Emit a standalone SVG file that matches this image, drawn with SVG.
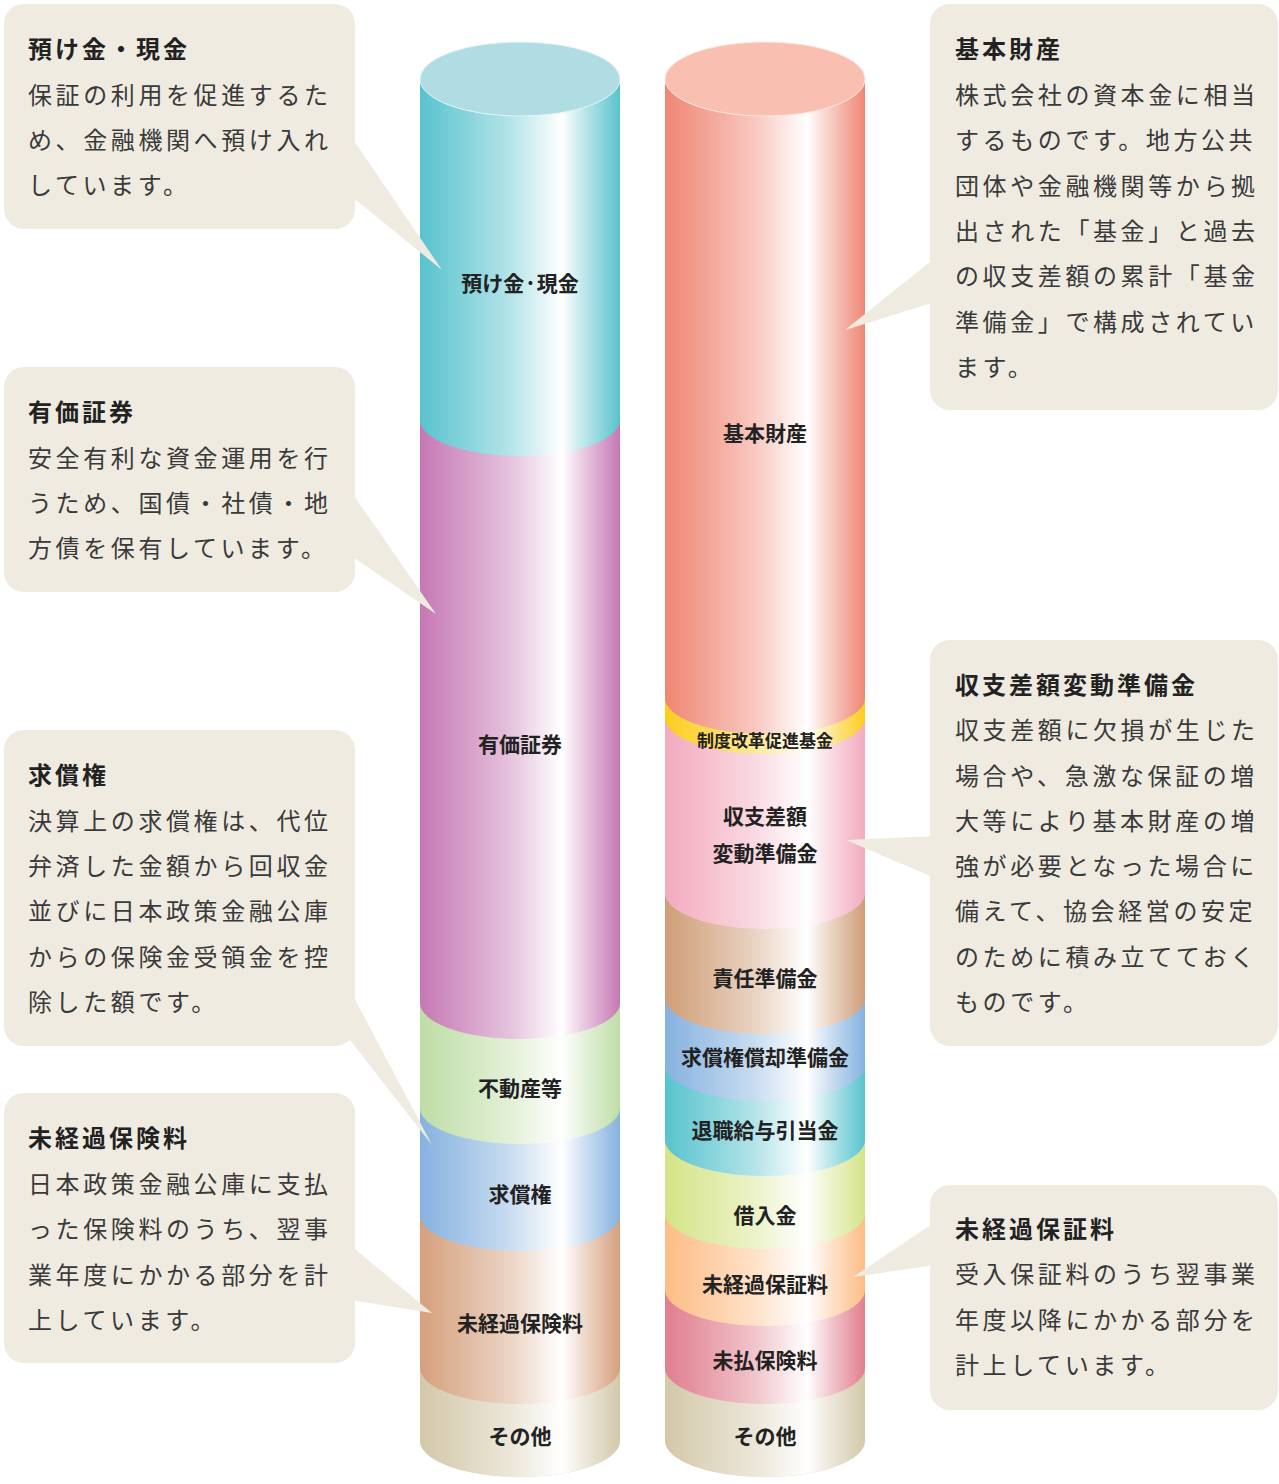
<svg xmlns="http://www.w3.org/2000/svg" width="1279" height="1484" viewBox="0 0 1279 1484">
<defs>
<style>
.box{fill:#efebe1}
.ttl{font-family:"Noto Sans CJK JP","Noto Sans",sans-serif;font-weight:700;font-size:24px;letter-spacing:3px;fill:#222}
.bd{font-family:"Noto Sans CJK JP","Noto Sans",sans-serif;font-weight:400;font-size:24px;letter-spacing:3.6px;fill:#3a3a3a}
.lbl{font-family:"Noto Sans CJK JP","Noto Sans",sans-serif;font-weight:700;font-size:21px;fill:#222;text-anchor:middle}
</style>
<linearGradient id="shine" x1="0" y1="0" x2="1" y2="0">
<stop offset="0" stop-color="#fff" stop-opacity="0"/>
<stop offset="0.15" stop-color="#fff" stop-opacity="0.18"/>
<stop offset="0.45" stop-color="#fff" stop-opacity="0.55"/>
<stop offset="0.71" stop-color="#fff" stop-opacity="1"/>
<stop offset="0.82" stop-color="#fff" stop-opacity="0.6"/>
<stop offset="1" stop-color="#fff" stop-opacity="0"/>
</linearGradient>
</defs>
<rect width="1279" height="1484" fill="#fff"/>

<!-- Left cylinder (assets) -->
<g id="cylinder-left">
<path id="seg-sonota-l" d="M420,1368 H620 V1441 A100,36 0 0 1 420,1441 Z" fill="#d3c8a9"/>
<path id="seg-mikeika-hokenryo" d="M420,1215 H620 V1368 A100,36 0 0 1 420,1368 Z" fill="#d5a07d"/>
<path id="seg-kyusho" d="M420,1108 H620 V1215 A100,36 0 0 1 420,1215 Z" fill="#86b2e0"/>
<path id="seg-fudosan" d="M420,1003 H620 V1108 A100,36 0 0 1 420,1108 Z" fill="#bfdea6"/>
<path id="seg-yuka" d="M420,420 H620 V1003 A100,36 0 0 1 420,1003 Z" fill="#c678b4"/>
<path id="seg-azukekin" d="M420,79 H620 V420 A100,36 0 0 1 420,420 Z" fill="#58c3ce"/>
<path d="M420,79 H620 V1441 A100,36 0 0 1 420,1441 Z" fill="url(#shine)"/>
<ellipse cx="520" cy="79" rx="100" ry="37" fill="#b0dde3" stroke="#e6f5f7" stroke-width="1"/>
<text class="lbl" x="520" y="291">預け金·現金</text>
<text class="lbl" x="520" y="752">有価証券</text>
<text class="lbl" x="520" y="1096">不動産等</text>
<text class="lbl" x="520" y="1202">求償権</text>
<text class="lbl" x="520" y="1331">未経過保険料</text>
<text class="lbl" x="520" y="1444">その他</text>
</g>

<!-- Right cylinder (liabilities / net assets) -->
<g id="cylinder-right">
<path id="seg-sonota-r" d="M665,1368 H865 V1441 A100,36 0 0 1 665,1441 Z" fill="#d3c8a9"/>
<path id="seg-miharai" d="M665,1290 H865 V1368 A100,36 0 0 1 665,1368 Z" fill="#e07e8e"/>
<path id="seg-mikeika-hoshoryo" d="M665,1213 H865 V1290 A100,36 0 0 1 665,1290 Z" fill="#fdbd86"/>
<path id="seg-kariire" d="M665,1140 H865 V1213 A100,36 0 0 1 665,1213 Z" fill="#d4e487"/>
<path id="seg-taishoku" d="M665,1065 H865 V1140 A100,36 0 0 1 665,1140 Z" fill="#58c3ce"/>
<path id="seg-shokyaku" d="M665,998 H865 V1065 A100,36 0 0 1 665,1065 Z" fill="#86b2e0"/>
<path id="seg-sekinin" d="M665,893 H865 V998 A100,36 0 0 1 665,998 Z" fill="#cf9e78"/>
<path id="seg-shushi" d="M665,718 H865 V893 A100,36 0 0 1 665,893 Z" fill="#f3abbe"/>
<path id="seg-seido" d="M665,698 H865 V718 A100,36 0 0 1 665,718 Z" fill="#fccd1c"/>
<path id="seg-kihon" d="M665,79 H865 V698 A100,36 0 0 1 665,698 Z" fill="#f08674"/>
<path d="M665,79 H865 V1441 A100,36 0 0 1 665,1441 Z" fill="url(#shine)"/>
<ellipse cx="765" cy="79" rx="100" ry="37" fill="#f9c0b2" stroke="#fde6e0" stroke-width="1"/>
<text class="lbl" x="765" y="441">基本財産</text>
<text class="lbl" x="765" y="747" style="font-size:17px">制度改革促進基金</text>
<text class="lbl" x="765" y="824">収支差額</text>
<text class="lbl" x="765" y="861">変動準備金</text>
<text class="lbl" x="765" y="986">責任準備金</text>
<text class="lbl" x="765" y="1065">求償権償却準備金</text>
<text class="lbl" x="765" y="1138">退職給与引当金</text>
<text class="lbl" x="765" y="1223">借入金</text>
<text class="lbl" x="765" y="1292">未経過保証料</text>
<text class="lbl" x="765" y="1368">未払保険料</text>
<text class="lbl" x="765" y="1444">その他</text>
</g>

<!-- Left callouts -->
<g id="callout-azukekin">
<polygon class="box" points="350,135 350,195 442,270"/>
<rect class="box" x="4" y="4" width="351" height="225" rx="20"/>
<text class="ttl" x="28" y="58">預け金・現金</text>
<text class="bd" x="28" y="104">保証の利用を促進するた</text>
<text class="bd" x="28" y="149">め、金融機関へ預け入れ</text>
<text class="bd" x="28" y="194">しています。</text>
</g>
<g id="callout-yuka">
<polygon class="box" points="350,490 350,555 436,614"/>
<rect class="box" x="4" y="367" width="351" height="225" rx="20"/>
<text class="ttl" x="28" y="421">有価証券</text>
<text class="bd" x="28" y="467">安全有利な資金運用を行</text>
<text class="bd" x="28" y="512">うため、国債・社債・地</text>
<text class="bd" x="28" y="557">方債を保有しています。</text>
</g>
<g id="callout-kyusho">
<polygon class="box" points="350,990 350,1040 432,1145"/>
<rect class="box" x="4" y="730" width="351" height="316" rx="20"/>
<text class="ttl" x="28" y="784">求償権</text>
<text class="bd" x="28" y="830">決算上の求償権は、代位</text>
<text class="bd" x="28" y="875">弁済した金額から回収金</text>
<text class="bd" x="28" y="920">並びに日本政策金融公庫</text>
<text class="bd" x="28" y="966">からの保険金受領金を控</text>
<text class="bd" x="28" y="1011">除した額です。</text>
</g>
<g id="callout-mikeika-hokenryo">
<polygon class="box" points="350,1245 350,1300 432,1313"/>
<rect class="box" x="4" y="1093" width="351" height="270" rx="20"/>
<text class="ttl" x="28" y="1147">未経過保険料</text>
<text class="bd" x="28" y="1193">日本政策金融公庫に支払</text>
<text class="bd" x="28" y="1238">った保険料のうち、翌事</text>
<text class="bd" x="28" y="1284">業年度にかかる部分を計</text>
<text class="bd" x="28" y="1329">上しています。</text>
</g>

<!-- Right callouts -->
<g id="callout-kihon">
<polygon class="box" points="935,258 935,302 845,330"/>
<rect class="box" x="930" y="4" width="348" height="406" rx="20"/>
<text class="ttl" x="955" y="58">基本財産</text>
<text class="bd" x="955" y="104">株式会社の資本金に相当</text>
<text class="bd" x="955" y="149">するものです。地方公共</text>
<text class="bd" x="955" y="195">団体や金融機関等から拠</text>
<text class="bd" x="955" y="240">出された「基金」と過去</text>
<text class="bd" x="955" y="285">の収支差額の累計「基金</text>
<text class="bd" x="955" y="331">準備金」で構成されてい</text>
<text class="bd" x="955" y="376">ます。</text>
</g>
<g id="callout-shushi">
<polygon class="box" points="935,836 935,878 846,840"/>
<rect class="box" x="930" y="640" width="348" height="406" rx="20"/>
<text class="ttl" x="955" y="694">収支差額変動準備金</text>
<text class="bd" x="955" y="739">収支差額に欠損が生じた</text>
<text class="bd" x="955" y="785">場合や、急激な保証の増</text>
<text class="bd" x="955" y="830">大等により基本財産の増</text>
<text class="bd" x="955" y="875">強が必要となった場合に</text>
<text class="bd" x="955" y="920">備えて、協会経営の安定</text>
<text class="bd" x="955" y="966">のために積み立てておく</text>
<text class="bd" x="955" y="1011">ものです。</text>
</g>
<g id="callout-mikeika-hoshoryo">
<polygon class="box" points="935,1222 935,1265 853,1277"/>
<rect class="box" x="930" y="1185" width="348" height="225" rx="20"/>
<text class="ttl" x="955" y="1238">未経過保証料</text>
<text class="bd" x="955" y="1283">受入保証料のうち翌事業</text>
<text class="bd" x="955" y="1329">年度以降にかかる部分を</text>
<text class="bd" x="955" y="1374">計上しています。</text>
</g>
<g id="connectors"/>
</svg>
